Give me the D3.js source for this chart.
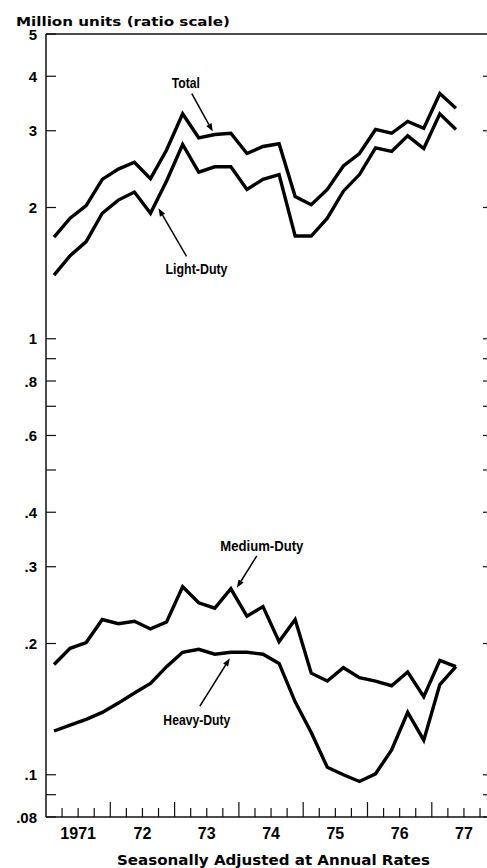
<!DOCTYPE html>
<html>
<head>
<meta charset="utf-8">
<script src="https://cdn.jsdelivr.net/npm/d3@7"></script>
<style>
	body { margin: 0; background: #fff; }
	svg { display: block; }
</style>
</head>
<body>
<script>

// quarterly data, seasonally adjusted annual rates, million units
var quarters = ['1971Q1','1971Q2','1971Q3','1971Q4','1972Q1','1972Q2','1972Q3','1972Q4',
	'1973Q1','1973Q2','1973Q3','1973Q4','1974Q1','1974Q2','1974Q3','1974Q4',
	'1975Q1','1975Q2','1975Q3','1975Q4','1976Q1','1976Q2','1976Q3','1976Q4',
	'1977Q1','1977Q2'];

var total = [1.71, 1.89, 2.02, 2.32, 2.45, 2.54, 2.33, 2.71, 3.28, 2.89, 2.94, 2.96, 2.66,
	2.76, 2.80, 2.12, 2.03, 2.20, 2.49, 2.66, 3.02, 2.96, 3.15, 3.04, 3.65, 3.38];
var lightDuty = [1.40, 1.55, 1.67, 1.94, 2.08, 2.17, 1.94, 2.30, 2.79, 2.41, 2.48, 2.48, 2.20,
	2.32, 2.38, 1.72, 1.72, 1.89, 2.18, 2.38, 2.74, 2.69, 2.92, 2.73, 3.28, 3.02];
var mediumDuty = [.179, .195, .201, .227, .222, .225, .216, .224, .270, .248, .241, .267, .231,
	.243, .202, .227, .171, .164, .176, .167, .164, .160, .172, .151, .183, .177];
var heavyDuty = [.126, .130, .134, .139, .146, .154, .162, .177, .191, .194, .189, .191, .191,
	.189, .180, .147, .125, .104, .100, .0965, .1005, .114, .139, .120, .161, .177];

var yLabelTicks = [5, 4, 3, 2, 1, .8, .6, .4, .3, .2, .1, .08];
var yLabelText = ['5', '4', '3', '2', '1', '.8', '.6', '.4', '.3', '.2', '.1', '.08'];
var yMinorTicks = [.9, .7, .5, .09];
var years = [1971, 1972, 1973, 1974, 1975, 1976, 1977];
var yearLabels = ['1971', '72', '73', '74', '75', '76', '77'];

var width = 487, height = 868;
var plotLeft = 46, plotTop = 34, plotBottom = 817, yearWidth = 64.3;

var svg = d3.select('body').append('svg')
	.attr('width', width)
	.attr('height', height);

var x = d3.scaleLinear()
	.domain([1971, 1978])
	.range([plotLeft, plotLeft + 7 * yearWidth]);

var y = d3.scaleLog()
	.domain([.08, 5])
	.range([plotBottom, plotTop]);

// quarter string -> middle of the quarter
function qx(q) {
	return x(+q.slice(0, 4) + (+q.slice(5) - .5) / 4);
}

var rightEdge = width;

// FRAME
svg.append('line')
	.attr('x1', plotLeft).attr('x2', rightEdge)
	.attr('y1', plotTop).attr('y2', plotTop)
	.attr('stroke', '#111').attr('stroke-width', 1.5);
svg.append('line')
	.attr('x1', plotLeft).attr('x2', plotLeft)
	.attr('y1', plotTop).attr('y2', plotBottom)
	.attr('stroke', '#111').attr('stroke-width', 1.5);
svg.append('line')
	.attr('x1', plotLeft).attr('x2', rightEdge)
	.attr('y1', plotBottom).attr('y2', plotBottom)
	.attr('stroke', '#111').attr('stroke-width', 1.5);

// Y TICKS, left and right side
var allY = yLabelTicks.concat(yMinorTicks);
svg.selectAll('.ytickL')
	.data(allY)
	.enter().append('line')
	.attr('x1', plotLeft).attr('x2', plotLeft + 10)
	.attr('y1', function(d){ return y(d); })
	.attr('y2', function(d){ return y(d); })
	.attr('stroke', '#111').attr('stroke-width', 1.2);

svg.selectAll('.ytickR')
	.data(allY.filter(function(d){ return d < 5; }))
	.enter().append('line')
	.attr('x1', rightEdge - 4).attr('x2', rightEdge)
	.attr('y1', function(d){ return y(d); })
	.attr('y2', function(d){ return y(d); })
	.attr('stroke', '#111').attr('stroke-width', 1.2);

svg.selectAll('.ylabel')
	.data(yLabelTicks)
	.enter().append('text')
	.attr('x', 37)
	.attr('y', function(d){ return y(d) + 5.5; })
	.attr('text-anchor', 'end')
	.style('font-family', 'Liberation Sans, Arial, sans-serif')
	.style('font-weight', 'bold')
	.style('font-size', '15px')
	.text(function(d, i){ return yLabelText[i]; });

// X TICKS: long at each year, short at quarters
var qTicks = [];
years.forEach(function(yr){
	for (var k = 0; k < 4; k++) qTicks.push(yr + k / 4);
});
svg.selectAll('.xtick')
	.data(qTicks.filter(function(d){ return x(d) > plotLeft + 1 && x(d) < rightEdge; }))
	.enter().append('line')
	.attr('x1', function(d){ return x(d); })
	.attr('x2', function(d){ return x(d); })
	.attr('y1', function(d){ return d % 1 === 0 ? plotBottom - 15 : plotBottom - 9; })
	.attr('y2', plotBottom)
	.attr('stroke', '#111').attr('stroke-width', 1.2);

svg.selectAll('.xlabel')
	.data(years)
	.enter().append('text')
	.attr('x', function(d){ return x(d + .5); })
	.attr('y', 838.5)
	.attr('text-anchor', 'middle')
	.style('font-family', 'Liberation Sans, Arial, sans-serif')
	.style('font-weight', 'bold')
	.style('font-size', '16px')
	.text(function(d, i){ return yearLabels[i]; });

// TITLES
svg.append('text')
	.attr('x', 16)
	.attr('y', 26)
	.attr('textLength', 214)
	.attr('lengthAdjust', 'spacingAndGlyphs')
	.style('font-family', 'DejaVu Sans, sans-serif')
	.style('font-weight', 'bold')
	.style('font-size', '13px')
	.text('Million units (ratio scale)');

svg.append('text')
	.attr('x', 117)
	.attr('y', 865)
	.attr('textLength', 313)
	.attr('lengthAdjust', 'spacingAndGlyphs')
	.style('font-family', 'DejaVu Sans, sans-serif')
	.style('font-weight', 'bold')
	.style('font-size', '14px')
	.text('Seasonally Adjusted at Annual Rates');

// SERIES LINES
var line = d3.line()
	.x(function(d, i){ return qx(quarters[i]); })
	.y(function(d){ return y(d); });

[total, lightDuty, mediumDuty, heavyDuty].forEach(function(s){
	svg.append('path')
		.datum(s)
		.attr('d', line)
		.attr('fill', 'none')
		.attr('stroke', '#000')
		.attr('stroke-width', 3.4)
		.attr('stroke-linejoin', 'miter');
});

// LABELS WITH ARROWS
// tip sits at a data point (+ small offset), tail and text are relative to the tip
var notes = [
	{ text: 'Total', series: total, i: 10, tip: [-2, -3], tail: [-21, -38], label: [-27, -44], w: 28 },
	{ text: 'Light-Duty', series: lightDuty, i: 6, tip: [8, -5], tail: [28, 48], label: [38, 66], w: 62 },
	{ text: 'Medium-Duty', series: mediumDuty, i: 11, tip: [6, -1], tail: [20, -32], label: [25, -37], w: 83 },
	{ text: 'Heavy-Duty', series: heavyDuty, i: 11, tip: [-1, 6], tail: [-30, 48], label: [-33, 67], w: 67 }
];

notes.forEach(function(n){
	var tx = qx(quarters[n.i]) + n.tip[0];
	var ty = y(n.series[n.i]) + n.tip[1];
	var sx = tx + n.tail[0], sy = ty + n.tail[1];
	var ang = Math.atan2(ty - sy, tx - sx);
	var hl = 8, hw = 3;
	var bx = tx - hl * Math.cos(ang), by = ty - hl * Math.sin(ang);

	svg.append('line')
		.attr('x1', sx).attr('y1', sy)
		.attr('x2', bx).attr('y2', by)
		.attr('stroke', '#000').attr('stroke-width', 1.5);

	svg.append('path')
		.attr('d', 'M' + tx + ',' + ty +
			'L' + (bx + hw * Math.sin(ang)) + ',' + (by - hw * Math.cos(ang)) +
			'L' + (bx - hw * Math.sin(ang)) + ',' + (by + hw * Math.cos(ang)) + 'Z')
		.attr('fill', '#000');

	svg.append('text')
		.attr('x', tx + n.label[0] - n.w / 2)
		.attr('y', ty + n.label[1])
		.attr('textLength', n.w)
		.attr('lengthAdjust', 'spacingAndGlyphs')
		.style('font-family', 'Liberation Sans, Arial, sans-serif')
		.style('font-weight', 'bold')
		.style('font-size', '15px')
		.text(n.text);
});

</script>
</body>
</html>
